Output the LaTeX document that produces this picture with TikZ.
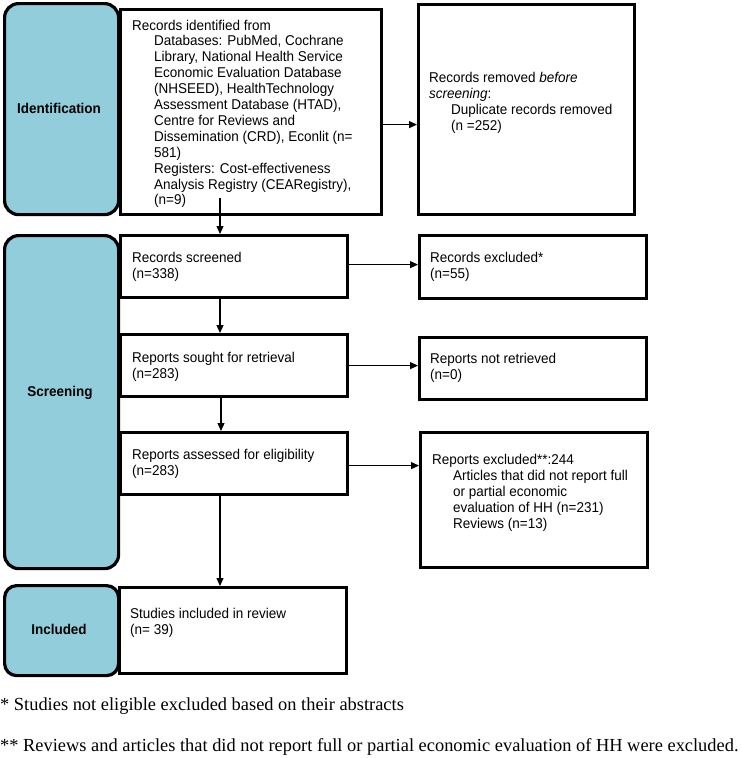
\documentclass[tikz,border=0pt]{standalone}
\usepackage{fontspec}
\newfontfamily\boxfont{Liberation Sans}[FakeStretch=0.95]
\newfontfamily\notefont{Liberation Serif}
\usetikzlibrary{arrows.meta}
\definecolor{phaseblue}{RGB}{146,205,220}
\newcommand{\ind}{\hspace*{22pt}}
\begin{document}
\begin{tikzpicture}[x=1pt,y=-1pt,
  box/.style={draw=black, line width=3.2pt, fill=white, rectangle, inner sep=0pt, anchor=north west},
  phase/.style={draw=black, line width=3.2pt, fill=phaseblue, rectangle, rounded corners=14pt, inner sep=0pt, anchor=north west},
  phasetext/.style={font=\boxfont\bfseries\fontsize{14.2}{16}\selectfont, inner sep=0pt},
  boxtext/.style={inner sep=0pt, anchor=base west, font=\boxfont\fontsize{14.2}{15.9}\selectfont},
  fnote/.style={inner sep=0pt, anchor=base west, font=\notefont\fontsize{18.4}{20}\selectfont},
  arr/.style={-{Triangle[length=8pt,width=7pt]}, line width=1.2pt}
]
\useasboundingbox (0,0) rectangle (740,758);

% phase labels
\node[phase, minimum width=114pt, minimum height=211pt] (idlab) at (3,2) {};
\node[phase, minimum width=114pt, minimum height=333pt] (sclab) at (3,234) {};
\node[phase, minimum width=114pt, minimum height=90pt, rounded corners=12pt] (inlab) at (3,584) {};
\node[phasetext] (idlabt) at (59,108) {Identification};
\node[phasetext] (sclabt) at (60,393) {Screening};
\node[phasetext] (inlabt) at (59,629) {Included};

% boxes
\node[box, minimum width=261pt, minimum height=205pt] (idbox) at (119,8) {};
\node[box, minimum width=216pt, minimum height=210pt] (removed) at (417,3) {};
\node[box, minimum width=227pt, minimum height=62pt] (screened) at (119,234) {};
\node[box, minimum width=227pt, minimum height=62pt] (sought) at (119,333) {};
\node[box, minimum width=227pt, minimum height=62pt] (assessed) at (119,431) {};
\node[box, minimum width=227pt, minimum height=63pt] (excl) at (418,234) {};
\node[box, minimum width=227pt, minimum height=62pt] (notret) at (418,336) {};
\node[box, minimum width=227pt, minimum height=135pt] (exrep) at (419,431) {};
\node[box, minimum width=227pt, minimum height=86pt] (studies) at (118,586) {};

% texts
\node[boxtext] (idboxt) at (132,30) {\parbox[t]{240pt}{\raggedright
Records identified from\\
\ind Databases: PubMed, Cochrane\\
\ind Library, National Health Service\\
\ind Economic Evaluation Database\\
\ind (NHSEED), HealthTechnology\\
\ind Assessment Database (HTAD),\\
\ind Centre for Reviews and\\
\ind Dissemination (CRD), Econlit (n=\\
\ind 581)\\
\ind Registers: Cost-effectiveness\\
\ind Analysis Registry (CEARegistry),\\
\ind (n=9)}};
\node[boxtext] (removedt) at (429,82.5) {\parbox[t]{200pt}{\raggedright
Records removed \textit{before}\\
\textit{screening}:\\
\ind Duplicate records removed\\
\ind (n =252)}};
\node[boxtext] (screenedt) at (132,262.5) {\parbox[t]{200pt}{\raggedright
Records screened\\(n=338)}};
\node[boxtext] (soughtt) at (132,362.5) {\parbox[t]{200pt}{\raggedright
Reports sought for retrieval\\(n=283)}};
\node[boxtext] (assessedt) at (132,459.5) {\parbox[t]{200pt}{\raggedright
Reports assessed for eligibility\\(n=283)}};
\node[boxtext] (exclt) at (430,262.5) {\parbox[t]{200pt}{\raggedright
Records excluded*\\(n=55)}};
\node[boxtext] (notrett) at (430,363.5) {\parbox[t]{200pt}{\raggedright
Reports not retrieved\\(n=0)}};
\node[boxtext] (exrept) at (432,464.5) {\parbox[t]{210pt}{\raggedright
Reports excluded**:244\\
\hspace*{21pt}Articles that did not report full\\
\hspace*{21pt}or partial economic\\
\hspace*{21pt}evaluation of HH (n=231)\\
\hspace*{21pt}Reviews (n=13)}};
\node[boxtext] (studiest) at (130,618.5) {\parbox[t]{200pt}{\raggedright
Studies included in review\\(n= 39)}};

% footnotes
\node[fnote] (fn1) at (0,710) {* Studies not eligible excluded based on their abstracts};
\node[fnote] (fn2) at (0,751) {** Reviews and articles that did not report full or partial economic evaluation of HH were excluded.};

% connectors
\coordinate (d1) at (220,198);
\draw[arr] (d1) -- (d1 |- screened.north);
\draw[arr] ([yshift=-12.5pt]idbox.east) -- ([yshift=-12.5pt]idbox.east -| removed.west);
\draw[arr] (screened.south -| d1) -- (sought.north -| d1);
\draw[arr] ([xshift=1pt]sought.south -| d1) -- ([xshift=1pt]assessed.north -| d1);
\draw[arr] (assessed.south -| d1) -- (studies.north -| d1);
\draw[arr] ([yshift=2pt]screened.east) -- ([yshift=2pt]screened.east -| excl.west);
\draw[arr] (sought.east) -- (sought.east -| notret.west);
\draw[arr] ([yshift=-2pt]assessed.east) -- ([yshift=-2pt]assessed.east -| exrep.west);
\end{tikzpicture}
\end{document}
